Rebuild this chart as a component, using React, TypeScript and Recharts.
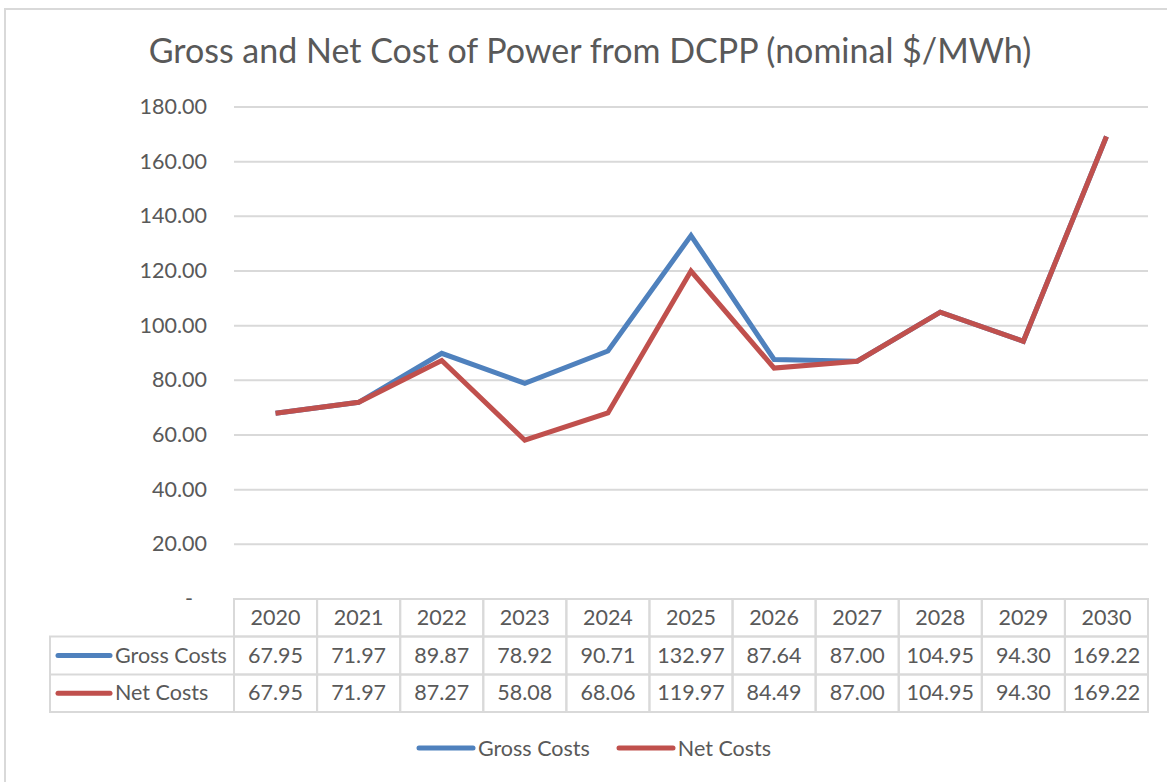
import { LineChart, Line, XAxis, YAxis, CartesianGrid, Legend } from "recharts";

const years = ["2020", "2021", "2022", "2023", "2024", "2025", "2026", "2027", "2028", "2029", "2030"];
const grossCosts = [67.95, 71.97, 89.87, 78.92, 90.71, 132.97, 87.64, 87.0, 104.95, 94.3, 169.22];
const netCosts = [67.95, 71.97, 87.27, 58.08, 68.06, 119.97, 84.49, 87.0, 104.95, 94.3, 169.22];
const yTicks = [0, 20, 40, 60, 80, 100, 120, 140, 160, 180];

const data = years.map((year, i) => ({ year, gross: grossCosts[i], net: netCosts[i] }));

const FONT = "Lato, 'Noto Sans', sans-serif";
const TEXT = "#595959";
const BORDER = "#d9d9d9";
const BLUE = "#4f81bd";
const RED = "#c0504d";
const FS = 21.5;

const ROW = [599, 636.5, 674.5, 712];
const COL_W = 83.1;

const YTick = (props: any) => {
  const { x, y, payload } = props;
  const v = payload.value;
  return (
    <text x={v === 0 ? x - 14 : x} y={y} dy={7} textAnchor="end" fill={TEXT} fontSize={FS} fontFamily={FONT}>
      {v === 0 ? "-" : v.toFixed(2)}
    </text>
  );
};

const TableTick = (props: any) => {
  const { x, payload, index } = props;
  const left = x - COL_W / 2;
  const cells = [payload.value, grossCosts[index].toFixed(2), netCosts[index].toFixed(2)];
  return (
    <g>
      {index === 0 && (
        <g>
          <rect x={50} y={ROW[1]} width={left - 50} height={ROW[3] - ROW[1]} fill="none" stroke={BORDER} strokeWidth={2} />
          <line x1={50} x2={left} y1={ROW[2]} y2={ROW[2]} stroke={BORDER} strokeWidth={2} />
          <line x1={58} x2={110} y1={(ROW[1] + ROW[2]) / 2} y2={(ROW[1] + ROW[2]) / 2} stroke={BLUE} strokeWidth={5} strokeLinecap="round" />
          <line x1={58} x2={110} y1={(ROW[2] + ROW[3]) / 2} y2={(ROW[2] + ROW[3]) / 2} stroke={RED} strokeWidth={5} strokeLinecap="round" />
          <text x={115} y={(ROW[1] + ROW[2]) / 2} dy={7} fill={TEXT} fontSize={FS} fontFamily={FONT}>Gross Costs</text>
          <text x={115} y={(ROW[2] + ROW[3]) / 2} dy={7} fill={TEXT} fontSize={FS} fontFamily={FONT}>Net Costs</text>
        </g>
      )}
      {cells.map((c, r) => (
        <g key={r}>
          <rect x={left} y={ROW[r]} width={COL_W} height={ROW[r + 1] - ROW[r]} fill="none" stroke={BORDER} strokeWidth={2} />
          <text x={x} y={(ROW[r] + ROW[r + 1]) / 2} dy={7} textAnchor="middle" fill={TEXT} fontSize={FS} fontFamily={FONT}>
            {c}
          </text>
        </g>
      ))}
    </g>
  );
};

const LegendContent = () => {
  const items = [
    { label: "Gross Costs", color: BLUE },
    { label: "Net Costs", color: RED },
  ];
  return (
    <div style={{ display: "flex", justifyContent: "center", gap: 26, fontFamily: FONT, fontSize: FS, color: TEXT }}>
      {items.map((it) => (
        <div key={it.label} style={{ display: "flex", alignItems: "center" }}>
          <svg width={60} height={10}>
            <line x1={3} x2={57} y1={5} y2={5} stroke={it.color} strokeWidth={5} strokeLinecap="round" />
          </svg>
          <span style={{ marginLeft: 2 }}>{it.label}</span>
        </div>
      ))}
    </div>
  );
};

export default function App() {
  return (
    <div style={{ position: "fixed", left: 0, top: 0, width: 1167, height: 782, background: "#fff" }}>
      <div style={{ position: "absolute", left: 4, top: 8, width: 1180, height: 800, border: "2px solid #d9d9d9", boxSizing: "border-box" }} />
      <div style={{ position: "absolute", left: 0, top: 29, width: 1180, textAlign: "center", fontFamily: FONT, fontSize: 34, color: TEXT, lineHeight: "42px" }}>
        Gross and Net Cost of Power from DCPP (nominal $/MWh)
      </div>
      <div style={{ position: "absolute", left: 0, top: 0 }}>
        <LineChart width={1167} height={782} data={data} margin={{ top: 107, right: 19, bottom: 70, left: 174 }}>
          <CartesianGrid vertical={false} stroke={BORDER} strokeWidth={2} />
          <XAxis
            dataKey="year"
            axisLine={false}
            tickLine={false}
            tickSize={0}
            tickMargin={0}
            height={113}
            padding={{ left: COL_W / 2, right: COL_W / 2 }}
            tick={<TableTick />}
            interval={0}
          />
          <YAxis
            width={60}
            domain={[0, 180]}
            ticks={yTicks}
            axisLine={false}
            tickLine={false}
            tickSize={0}
            tickMargin={27}
            tick={<YTick />}
          />
          <Legend layout="horizontal" verticalAlign="middle" align="center" content={<LegendContent />} wrapperStyle={{ top: 735, left: 10, width: 1167 }} />
          <Line dataKey="gross" name="Gross Costs" stroke={BLUE} strokeWidth={5} dot={false} isAnimationActive={false} />
          <Line dataKey="net" name="Net Costs" stroke={RED} strokeWidth={5} dot={false} isAnimationActive={false} />
        </LineChart>
      </div>
    </div>
  );
}
